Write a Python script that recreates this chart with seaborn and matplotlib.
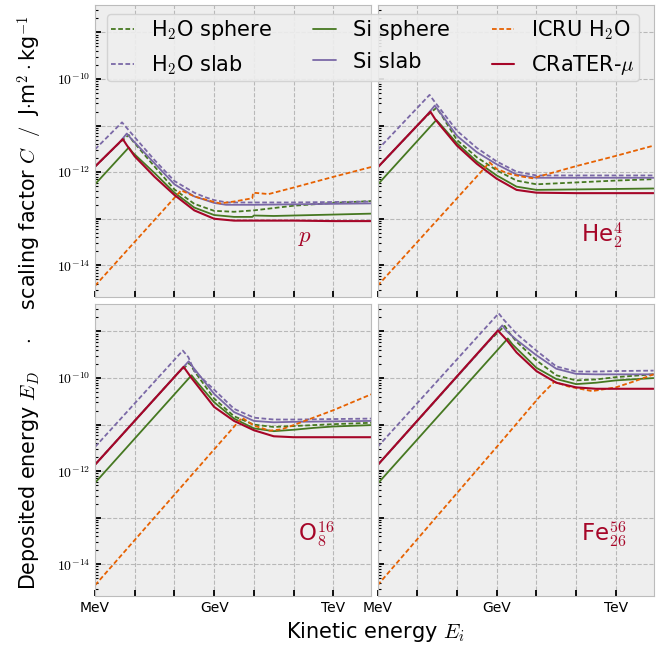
import numpy as np
import matplotlib
matplotlib.use("Agg")
import matplotlib.pyplot as plt
import matplotlib.ticker as mticker
import seaborn as sns

# ---------------- data (log10 of energy in MeV, log10 of C in J m^2 kg^-1) -------------
# proton
P_H2O_SPHERE_E = [0, 0.6, 0.85, 0.95, 1.5, 2.0, 2.5, 3.0, 3.5, 4.0, 5.0, 6.0, 6.95]
P_H2O_SPHERE_C = [-11.88, -11.38, -11.20, -11.33, -11.88, -12.37, -12.68, -12.83, -12.85, -12.82, -12.72, -12.66, -12.62]
P_H2O_SLAB_E = [0, 0.68, 0.78, 1.0, 1.5, 2.0, 2.5, 2.75, 3.0, 3.32, 4.0, 5.0, 6.0, 6.95]
P_H2O_SLAB_C = [-11.51, -10.93, -11.03, -11.25, -11.74, -12.19, -12.44, -12.53, -12.60, -12.65, -12.65, -12.65, -12.64, -12.63]
P_SI_SPHERE_E = [0, 0.85, 0.95, 1.5, 2.0, 2.5, 3.0, 3.5, 3.96, 4.0, 4.5, 5.0, 6.0, 6.95]
P_SI_SPHERE_C = [-12.26, -11.47, -11.58, -12.02, -12.44, -12.76, -12.92, -12.96, -12.96, -12.93, -12.94, -12.93, -12.91, -12.89]
P_SI_SLAB_E = [0, 0.6, 0.8, 0.9, 1.5, 2.0, 2.5, 3.0, 3.3, 4.0, 5.0, 6.0, 6.95]
P_SI_SLAB_C = [-11.88, -11.38, -11.17, -11.27, -11.81, -12.26, -12.52, -12.66, -12.70, -12.70, -12.69, -12.68, -12.67]
P_ICRU_E = [0, 2.17, 2.5, 3.0, 3.15, 3.5, 3.96, 3.98, 4.37, 5.0, 6.0, 6.95]
P_ICRU_C = [-14.44, -12.39, -12.52, -12.64, -12.67, -12.63, -12.56, -12.44, -12.47, -12.33, -12.10, -11.89]
P_CRATER_E = [0, 0.7, 0.8, 1.0, 1.5, 2.0, 2.5, 3.0, 3.5, 4.0, 5.0, 6.0, 6.95]
P_CRATER_C = [-11.88, -11.29, -11.42, -11.66, -12.10, -12.49, -12.82, -13.00, -13.04, -13.04, -13.04, -13.05, -13.05]

# helium
HE_H2O_SPHERE_E = [0, 1.2, 1.48, 1.6, 2.0, 2.5, 3.0, 3.5, 4.0, 5.0, 6.0, 6.95]
HE_H2O_SPHERE_C = [-11.90, -10.82, -10.62, -10.76, -11.31, -11.68, -11.96, -12.18, -12.26, -12.22, -12.18, -12.15]
HE_H2O_SLAB_E = [0, 1.31, 1.43, 2.0, 2.5, 3.0, 3.5, 4.0, 5.0, 6.0, 6.95]
HE_H2O_SLAB_C = [-11.52, -10.34, -10.48, -11.11, -11.48, -11.77, -11.99, -12.07, -12.07, -12.07, -12.07]
HE_SI_SPHERE_E = [0, 1.48, 1.6, 2.0, 2.5, 3.0, 3.5, 4.0, 5.0, 6.0, 6.95]
HE_SI_SPHERE_C = [-12.27, -10.88, -10.99, -11.38, -11.77, -12.07, -12.31, -12.38, -12.37, -12.36, -12.35]
HE_SI_SLAB_E = [0, 1.2, 1.44, 1.56, 2.0, 2.5, 3.0, 3.5, 4.0, 5.0, 6.0, 6.95]
HE_SI_SLAB_C = [-11.90, -10.82, -10.57, -10.70, -11.22, -11.57, -11.83, -12.05, -12.12, -12.12, -12.12, -12.12]
HE_ICRU_E = [0, 2.82, 3.0, 3.3, 3.6, 3.9, 4.2, 5.0, 6.0, 6.95]
HE_ICRU_C = [-14.44, -11.79, -11.93, -12.03, -12.09, -12.13, -12.06, -11.87, -11.65, -11.43]
HE_CRATER_E = [0, 1.33, 1.45, 1.6, 2.0, 2.5, 3.0, 3.5, 4.0, 5.0, 6.0, 6.95]
HE_CRATER_C = [-11.90, -10.70, -10.86, -11.02, -11.43, -11.82, -12.14, -12.38, -12.44, -12.45, -12.45, -12.45]

# oxygen
O_H2O_SPHERE_E = [0, 2.1, 2.38, 2.5, 3.0, 3.5, 4.0, 4.5, 5.0, 6.0, 6.95]
O_H2O_SPHERE_C = [-11.86, -9.88, -9.68, -9.85, -10.44, -10.82, -11.00, -11.05, -11.03, -10.99, -10.96]
O_H2O_SLAB_E = [0, 2.21, 2.35, 2.5, 3.0, 3.5, 4.0, 4.5, 5.0, 6.0, 6.95]
O_H2O_SLAB_C = [-11.48, -9.41, -9.55, -9.85, -10.25, -10.66, -10.85, -10.89, -10.89, -10.88, -10.87]
O_SI_SPHERE_E = [0, 2.43, 2.55, 3.0, 3.5, 4.0, 4.5, 5.0, 5.5, 6.0, 6.95]
O_SI_SPHERE_C = [-12.25, -9.94, -10.07, -10.52, -10.87, -11.08, -11.14, -11.11, -11.07, -11.04, -11.01]
O_SI_SLAB_E = [0, 2.1, 2.36, 2.48, 3.0, 3.5, 4.0, 4.5, 5.0, 6.0, 6.95]
O_SI_SLAB_C = [-11.86, -9.88, -9.64, -9.78, -10.34, -10.73, -10.92, -10.95, -10.94, -10.93, -10.92]
O_ICRU_E = [0, 3.70, 4.0, 4.4, 4.7, 5.0, 6.0, 6.95]
O_ICRU_C = [-14.45, -10.85, -11.02, -11.13, -11.10, -11.01, -10.69, -10.35]
O_CRATER_E = [0, 2.23, 2.44, 3.0, 3.5, 4.0, 4.5, 5.0, 6.0, 6.95]
O_CRATER_C = [-11.86, -9.76, -10.01, -10.62, -10.92, -11.12, -11.25, -11.27, -11.27, -11.27]

# iron
FE_H2O_SPHERE_E = [0, 2.8, 3.2, 3.32, 3.5, 4.0, 4.5, 5.0, 5.5, 6.0, 6.95]
FE_H2O_SPHERE_C = [-11.87, -9.21, -8.88, -9.03, -9.22, -9.62, -9.94, -10.05, -10.03, -9.98, -9.92]
FE_H2O_SLAB_E = [0, 3.05, 3.17, 3.5, 4.0, 4.5, 5.0, 5.5, 6.0, 6.95]
FE_H2O_SLAB_C = [-11.48, -8.61, -8.74, -9.05, -9.41, -9.75, -9.86, -9.86, -9.85, -9.84]
FE_SI_SPHERE_E = [0, 3.28, 3.4, 4.0, 4.5, 5.0, 5.5, 6.0, 6.95]
FE_SI_SPHERE_C = [-12.27, -9.15, -9.28, -9.78, -10.02, -10.13, -10.10, -10.05, -10.00]
FE_SI_SLAB_E = [0, 2.8, 3.14, 3.26, 3.5, 4.0, 4.5, 5.0, 5.5, 6.0, 6.95]
FE_SI_SLAB_C = [-11.87, -9.21, -8.87, -9.00, -9.18, -9.51, -9.80, -9.91, -9.92, -9.92, -9.92]
FE_ICRU_E = [0, 3.0, 3.6, 4.1, 4.45, 4.8, 5.4, 6.0, 6.5, 6.95]
FE_ICRU_C = [-14.45, -11.48, -10.88, -10.38, -10.08, -10.18, -10.28, -10.20, -10.06, -9.92]
FE_CRATER_E = [0, 3.03, 3.25, 3.5, 4.0, 4.5, 5.0, 5.5, 6.0, 6.95]
FE_CRATER_C = [-11.87, -8.98, -9.18, -9.45, -9.85, -10.10, -10.20, -10.23, -10.23, -10.23]

SERIES_LABELS = [r"H$_2$O sphere", r"H$_2$O slab", r"Si sphere", r"Si slab",
                 r"ICRU H$_2$O", r"CRaTER-$\mu$"]
PANEL_LABELS = [r"$p$", r"He$_2^4$", r"O$_8^{16}$", r"Fe$_{26}^{56}$"]
X_TICK_LABELS = ["MeV", "", "", "GeV", "", "", "TeV"]
Y_DECADES = [-14, -13, -12, -11, -10, -9]
Y_LABELLED = [-14, -12, -10]

PANELS = [
    [(P_H2O_SPHERE_E, P_H2O_SPHERE_C), (P_H2O_SLAB_E, P_H2O_SLAB_C), (P_SI_SPHERE_E, P_SI_SPHERE_C),
     (P_SI_SLAB_E, P_SI_SLAB_C), (P_ICRU_E, P_ICRU_C), (P_CRATER_E, P_CRATER_C)],
    [(HE_H2O_SPHERE_E, HE_H2O_SPHERE_C), (HE_H2O_SLAB_E, HE_H2O_SLAB_C), (HE_SI_SPHERE_E, HE_SI_SPHERE_C),
     (HE_SI_SLAB_E, HE_SI_SLAB_C), (HE_ICRU_E, HE_ICRU_C), (HE_CRATER_E, HE_CRATER_C)],
    [(O_H2O_SPHERE_E, O_H2O_SPHERE_C), (O_H2O_SLAB_E, O_H2O_SLAB_C), (O_SI_SPHERE_E, O_SI_SPHERE_C),
     (O_SI_SLAB_E, O_SI_SLAB_C), (O_ICRU_E, O_ICRU_C), (O_CRATER_E, O_CRATER_C)],
    [(FE_H2O_SPHERE_E, FE_H2O_SPHERE_C), (FE_H2O_SLAB_E, FE_H2O_SLAB_C), (FE_SI_SPHERE_E, FE_SI_SPHERE_C),
     (FE_SI_SLAB_E, FE_SI_SLAB_C), (FE_ICRU_E, FE_ICRU_C), (FE_CRATER_E, FE_CRATER_C)],
]

# ---------------- style ----------------
GREEN, PURPLE, ORANGE, RED = "#467821", "#7A68A6", "#E66101", "#A60628"
STYLES = [
    dict(color=GREEN, linestyle=(0, (2.6, 1.4)), linewidth=1.3),
    dict(color=PURPLE, linestyle=(0, (2.6, 1.4)), linewidth=1.3),
    dict(color=GREEN, linestyle="-", linewidth=1.3),
    dict(color=PURPLE, linestyle="-", linewidth=1.3),
    dict(color=ORANGE, linestyle=(0, (2.6, 1.4)), linewidth=1.3),
    dict(color=RED, linestyle="-", linewidth=1.5),
]

sns.set_style("darkgrid", rc={
    "axes.facecolor": "#eeeeee",
    "axes.edgecolor": "#bcbcbc",
    "axes.linewidth": 1.5,
    "grid.color": "#b8b8b8",
    "grid.linestyle": "--",
    "grid.linewidth": 0.7,
    "xtick.direction": "in",
    "ytick.direction": "in",
    "xtick.bottom": True,
    "ytick.left": True,
    "xtick.color": "black",
    "ytick.color": "black",
    "text.color": "black",
    "axes.labelcolor": "black",
})
plt.rcParams["font.family"] = ["DejaVu Sans"]
plt.rcParams["mathtext.fontset"] = "cm"

fig, axes = plt.subplots(2, 2, figsize=(6.7, 6.48), dpi=100, sharex=True, sharey=True)
fig.subplots_adjust(left=0.1418, right=0.9761, top=0.9923, bottom=0.0802,
                    wspace=0.022, hspace=0.024)

y_major = [10.0 ** d for d in Y_DECADES]
y_minor = [s * 10.0 ** d for d in [-15] + Y_DECADES for s in range(2, 10)]
y_minor = [v for v in y_minor if 10 ** -14.68 < v < 10 ** -8.41]
y_labels = [(r"$10^{%d}$" % d) if d in Y_LABELLED else "" for d in Y_DECADES]

for idx, ax in enumerate(axes.flat):
    ax.set_xscale("log")
    ax.set_yscale("log")
    for (le, lc), st in zip(PANELS[idx], STYLES):
        sns.lineplot(x=np.power(10.0, le), y=np.power(10.0, lc), ax=ax,
                     estimator=None, sort=False, legend=False, **st)
    ax.set_xlim(1, 10 ** 6.96)
    ax.set_ylim(10 ** -14.68, 10 ** -8.41)
    ax.xaxis.set_major_locator(mticker.FixedLocator(10.0 ** np.arange(0, 7)))
    ax.xaxis.set_major_formatter(mticker.FixedFormatter(X_TICK_LABELS))
    ax.xaxis.set_minor_locator(mticker.NullLocator())
    ax.yaxis.set_major_locator(mticker.FixedLocator(y_major))
    ax.yaxis.set_major_formatter(mticker.FixedFormatter(y_labels))
    ax.yaxis.set_minor_locator(mticker.FixedLocator(y_minor))
    ax.yaxis.set_minor_formatter(mticker.NullFormatter())
    ax.tick_params(which="major", length=4, width=1.3, labelsize=10, color="black")
    ax.tick_params(which="minor", length=2.2, width=0.8, color="black")
    ax.grid(True, which="major")
    ax.grid(False, which="minor")
    ax.set_xlabel("")
    ax.set_ylabel("")
    ax.text(0.735, 0.187, PANEL_LABELS[idx], transform=ax.transAxes, ha="left",
            va="baseline", fontsize=16.5, color=RED)

handles = axes[0, 0].get_lines()[:6]
fig.legend(handles, SERIES_LABELS, loc="upper center", bbox_to_anchor=(0.557, 0.9784),
           borderaxespad=0.0,
           ncol=3, fontsize=15, handlelength=1.1, handletextpad=0.8, columnspacing=2.0,
           labelspacing=0.55, borderpad=0.2,
           frameon=True, facecolor="#eeeeee", edgecolor="#d0d0d0", framealpha=0.9)

fig.text(0.56, 0.0155, r"Kinetic energy $E_i$", ha="center", va="baseline", fontsize=15)
fig.text(0.045, 0.5332,
         r"Deposited energy $E_D$ $\quad\cdot\quad$ scaling factor $C$ $\;/\;$ J$\cdot$m$^2\cdot$kg$^{-1}$",
         rotation=90, ha="center", va="center", fontsize=14.9)

fig.savefig("out.png", dpi=100)
